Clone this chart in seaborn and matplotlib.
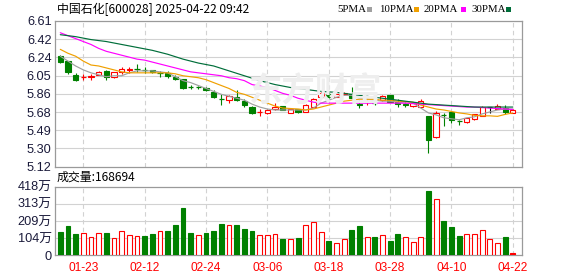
import numpy as np
import pandas as pd
import matplotlib
matplotlib.use("Agg")
import matplotlib.pyplot as plt
from matplotlib.patches import Rectangle
import seaborn as sns

# ---------------- data ----------------
title = "中国石化[600028] 2025-04-22 09:42"
vol_title = "成交量:168694"
watermark = "东方财富"

dates = ["01-20", "01-21", "01-22", "01-23", "01-24", "01-27",
         "02-05", "02-06", "02-07", "02-10", "02-11", "02-12", "02-13", "02-14",
         "02-17", "02-18", "02-19", "02-20", "02-21", "02-24", "02-25", "02-26",
         "02-27", "02-28", "03-03", "03-04", "03-05", "03-06", "03-07", "03-10",
         "03-11", "03-12", "03-13", "03-14", "03-17", "03-18", "03-19", "03-20",
         "03-21", "03-24", "03-25", "03-26", "03-27", "03-28", "03-31", "04-01",
         "04-02", "04-03", "04-07", "04-08", "04-09", "04-10", "04-11", "04-14",
         "04-15", "04-16", "04-17", "04-18", "04-21", "04-22"]
date_ticks = ["01-23", "02-12", "02-24", "03-06", "03-18", "03-28", "04-10", "04-22"]

opens = [6.25, 6.20, 6.06, 6.03, 6.04, 6.06, 6.10, 6.04, 6.09, 6.11,
         6.125, 6.115, 6.105, 6.08, 6.08, 6.04, 6.02, 5.94, 5.935, 5.92,
         5.88, 5.82, 5.80, 5.83, 5.79, 5.73, 5.675, 5.67, 5.705, 5.74,
         5.67, 5.71, 5.68, 5.73, 5.835, 5.865, 5.83, 5.86, 5.865, 5.765,
         5.775, 5.78, 5.80, 5.85, 5.785, 5.765, 5.745, 5.73, 5.635, 5.42,
         5.655, 5.675, 5.595, 5.58, 5.605, 5.64, 5.735, 5.715, 5.725, 5.67]
highs = [6.26, 6.20, 6.08, 6.07, 6.07, 6.10, 6.11, 6.09, 6.14, 6.14,
         6.17, 6.14, 6.11, 6.10, 6.10, 6.06, 6.02, 5.96, 5.95, 5.93,
         5.90, 5.86, 5.85, 5.90, 5.81, 5.74, 5.71, 5.71, 5.77, 5.74,
         5.71, 5.71, 5.76, 5.82, 5.89, 5.88, 5.87, 5.88, 5.94, 5.80,
         5.80, 5.80, 5.855, 5.85, 5.81, 5.78, 5.78, 5.81, 5.635, 5.685,
         5.67, 5.68, 5.60, 5.62, 5.66, 5.745, 5.735, 5.76, 5.75, 5.71]
lows = [6.18, 6.07, 6.00, 6.01, 6.01, 6.06, 6.01, 6.03, 6.07, 6.08,
        6.09, 6.08, 6.08, 6.04, 6.03, 6.01, 5.91, 5.91, 5.91, 5.89,
        5.82, 5.75, 5.77, 5.79, 5.73, 5.66, 5.64, 5.66, 5.70, 5.70,
        5.67, 5.67, 5.68, 5.73, 5.83, 5.82, 5.83, 5.85, 5.82, 5.72,
        5.75, 5.75, 5.79, 5.78, 5.73, 5.73, 5.73, 5.73, 5.26, 5.41,
        5.54, 5.57, 5.545, 5.57, 5.60, 5.64, 5.665, 5.71, 5.66, 5.67]
closes = [6.19, 6.09, 6.01, 6.035, 6.05, 6.09, 6.04, 6.09, 6.12, 6.12,
          6.12, 6.11, 6.09, 6.075, 6.05, 6.02, 5.92, 5.935, 5.93, 5.90,
          5.83, 5.815, 5.845, 5.80, 5.75, 5.67, 5.68, 5.70, 5.735, 5.70,
          5.705, 5.675, 5.75, 5.81, 5.87, 5.83, 5.86, 5.87, 5.825, 5.755,
          5.78, 5.775, 5.84, 5.785, 5.76, 5.75, 5.77, 5.795, 5.39, 5.67,
          5.65, 5.595, 5.59, 5.615, 5.655, 5.73, 5.735, 5.745, 5.675, 5.70]

ma5 = [6.25, 6.20, 6.15, 6.11, 6.08, 6.06, 6.04, 6.05, 6.05, 6.08,
       6.10, 6.10, 6.10, 6.09, 6.08, 6.04, 6.00, 5.98, 5.95, 5.92,
       5.89, 5.86, 5.84, 5.82, 5.80, 5.76, 5.73, 5.71, 5.70, 5.70,
       5.70, 5.70, 5.70, 5.72, 5.77, 5.80, 5.83, 5.85, 5.85, 5.82,
       5.81, 5.80, 5.79, 5.79, 5.78, 5.77, 5.77, 5.72, 5.67, 5.65,
       5.62, 5.61, 5.60, 5.62, 5.63, 5.66, 5.68, 5.70, 5.71, 5.71]
ma10 = [6.32, 6.28, 6.25, 6.20, 6.16, 6.15, 6.13, 6.11, 6.09, 6.08,
        6.08, 6.08, 6.08, 6.08, 6.08, 6.07, 6.05, 6.04, 6.03, 6.01,
        5.98, 5.95, 5.92, 5.88, 5.86, 5.83, 5.80, 5.77, 5.74, 5.72,
        5.715, 5.71, 5.70, 5.71, 5.73, 5.75, 5.77, 5.79, 5.80, 5.81,
        5.81, 5.81, 5.80, 5.80, 5.79, 5.785, 5.78, 5.75, 5.73, 5.71,
        5.70, 5.685, 5.67, 5.66, 5.645, 5.64, 5.64, 5.635, 5.655, 5.67]
ma20 = [6.49, 6.46, 6.43, 6.40, 6.37, 6.33, 6.30, 6.28, 6.26, 6.24,
        6.22, 6.21, 6.19, 6.17, 6.15, 6.13, 6.11, 6.09, 6.08, 6.07,
        6.06, 6.05, 6.03, 6.02, 6.00, 5.96, 5.945, 5.93, 5.90, 5.87,
        5.85, 5.82, 5.80, 5.78, 5.77, 5.77, 5.77, 5.77, 5.77, 5.77,
        5.77, 5.77, 5.77, 5.77, 5.77, 5.77, 5.765, 5.76, 5.755, 5.75,
        5.745, 5.74, 5.735, 5.73, 5.73, 5.725, 5.72, 5.715, 5.71, 5.705]
ma30 = [6.47, 6.46, 6.45, 6.435, 6.42, 6.41, 6.40, 6.385, 6.37, 6.355,
        6.34, 6.325, 6.31, 6.29, 6.27, 6.245, 6.22, 6.20, 6.18, 6.165,
        6.15, 6.125, 6.10, 6.075, 6.05, 6.025, 6.00, 5.98, 5.96, 5.945,
        5.93, 5.92, 5.91, 5.90, 5.89, 5.885, 5.88, 5.87, 5.86, 5.85,
        5.84, 5.83, 5.82, 5.81, 5.80, 5.79, 5.78, 5.77, 5.76, 5.755,
        5.75, 5.745, 5.74, 5.735, 5.73, 5.73, 5.73, 5.73, 5.73, 5.73]

# volume in 万 (10k lots)
volume = [143, 179, 130, 134, 110, 134, 136, 104, 147, 122,
          116, 118, 130, 147, 149, 185, 289, 136, 124, 136,
          149, 191, 185, 185, 161, 149, 122, 122, 130, 100,
          100, 106, 183, 204, 143, 88, 73, 100, 155, 179,
          112, 112, 122, 88, 130, 110, 80, 110, 392, 342,
          210, 173, 118, 128, 128, 155, 100, 73, 112, 16.87]
vol_up = [0, 0, 0, 1, 1, 1, 0, 1, 1, 1,
          1, 0, 0, 1, 0, 0, 0, 0, 1, 0,
          0, 0, 1, 0, 0, 0, 1, 1, 1, 0,
          1, 0, 1, 1, 1, 0, 1, 1, 0, 0,
          1, 0, 1, 0, 0, 1, 1, 1, 0, 1,
          0, 0, 0, 1, 1, 1, 1, 1, 0, 1]

price_labels = ["5.12", "5.30", "5.49", "5.68", "5.86", "6.05", "6.24", "6.42", "6.61"]
vol_labels = ["0", "104万", "209万", "313万", "418万"]
ma_names = ["5PMA", "10PMA", "20PMA", "30PMA"]

# ---------------- style ----------------
RED = "#ff0000"
GREEN = "#008000"
ma_colors = ["#a0a0a0", "#f0a000", "#ff00ff", "#006e3a"]
GRID = "#d2d2d2"
SPINE = "#9a9a9a"
LBL = "#1a1a3a"

sns.set_theme(style="white")
plt.rcParams["font.family"] = ["Noto Sans CJK SC", "DejaVu Sans"]

W, H = 578, 276
fig = plt.figure(figsize=(W / 100, H / 100), dpi=100)
fig.patch.set_facecolor("white")


def rect(l, t, r, b):
    return [l / W, 1 - b / H, (r - l) / W, (b - t) / H]


ax = fig.add_axes(rect(55, 21, 522, 166.7))
axv = fig.add_axes(rect(55, 186.5, 522, 255.3))

n = len(closes)
idx = np.arange(n)
xlim = (-0.69, 60.2)
pmin, pmax = 5.12, 6.61
vmax = 418
tick_pos = [dates.index(d) for d in date_ticks]

for a in (ax, axv):
    a.set_facecolor("white")
    a.set_xlim(*xlim)
    for s in a.spines.values():
        s.set_color(SPINE)
        s.set_linewidth(0.9)
    for p in tick_pos:
        a.axvline(p, color=GRID, lw=0.8, ls=(0, (4, 3)), zorder=0.5)
    a.tick_params(length=0)

# price axis
ax.set_ylim(pmin, pmax)
pticks = np.linspace(pmin, pmax, len(price_labels))
ax.set_yticks(pticks)
ax.set_yticklabels(price_labels, family=["Liberation Sans", "DejaVu Sans"],
                   fontsize=9.2, color=LBL)
ax.tick_params(axis="y", pad=2.5)
for p in pticks[1:-1]:
    ax.axhline(p, color=GRID, lw=0.8, zorder=0.5)
ax.set_xticks([])

# watermark
fig.text(315 / W, 1 - 92 / H, watermark, fontsize=24, fontweight="bold",
         color="#eeeeee", ha="center", va="center", zorder=0.6,
         family=["Noto Sans CJK SC"])

# MA lines via seaborn
ma_df = pd.DataFrame({
    "i": np.tile(idx, 4),
    "v": np.concatenate([ma5, ma10, ma20, ma30]),
    "k": np.repeat(ma_names, n),
})
sns.lineplot(data=ma_df, x="i", y="v", hue="k", hue_order=ma_names,
             palette=ma_colors, linewidth=0.85, legend=False, ax=ax,
             zorder=4, estimator=None)
ax.set_xlabel("")
ax.set_ylabel("")

# candles
bw = 0.68
for i, (o, h, l, c) in enumerate(zip(opens, highs, lows, closes)):
    if c > o:
        col = RED
    elif c < o:
        col = GREEN
    else:
        col = "black"
    ax.vlines(i, l, h, color=col, lw=0.8, zorder=2)
    if abs(c - o) < 0.008:
        ax.hlines(c, i - bw / 2, i + bw / 2, color=col, lw=0.9, zorder=3)
    elif c > o:
        ax.add_patch(Rectangle((i - bw / 2, o), bw, c - o, facecolor="white",
                               edgecolor=col, lw=0.8, zorder=3))
    else:
        ax.add_patch(Rectangle((i - bw / 2, c), bw, o - c, facecolor=col,
                               edgecolor=col, lw=0.8, zorder=3))

# volume axis
axv.set_ylim(0, vmax)
vticks = np.linspace(0, vmax, len(vol_labels))
axv.set_yticks(vticks)
axv.set_yticklabels(vol_labels, family=["Liberation Sans", "Noto Sans CJK SC"],
                    fontsize=9.2, color=LBL)
axv.tick_params(axis="y", pad=2.5)
for p in vticks[1:-1]:
    axv.axhline(p, color=GRID, lw=0.8, zorder=0.5)
axv.set_xticks(tick_pos)
axv.set_xticklabels(date_ticks, family=["Liberation Sans", "DejaVu Sans"],
                    fontsize=8.6, color=RED)
axv.tick_params(axis="x", pad=5)

vw = 0.64
for i, (v, up) in enumerate(zip(volume, vol_up)):
    if up:
        fc = RED if i == n - 1 else "white"
        axv.bar(i, v, width=vw, facecolor=fc, edgecolor=RED, lw=0.8, zorder=3)
    else:
        axv.bar(i, v, width=vw, facecolor=GREEN, edgecolor=GREEN, lw=0.8, zorder=3)

# title & legend
fig.text(57 / W, 1 - 9.5 / H, title, fontsize=8.6, color="black",
         ha="left", va="center")
fig.text(57 / W, 1 - 177 / H, vol_title, fontsize=8.6, color="black",
         ha="left", va="center")

leg_text_x = [337, 379, 424, 471]
leg_mark_x = [367, 414, 461, 506]
for name, col, tx, mx in zip(ma_names, ma_colors, leg_text_x, leg_mark_x):
    fig.text(tx / W, 1 - 9.5 / H, name, fontsize=7.8, color="black",
             family=["Liberation Serif", "DejaVu Serif"], ha="left", va="center")
    fig.patches.append(Rectangle((mx / W, 1 - 11.5 / H), 5 / W, 4.5 / H,
                                 facecolor=col, edgecolor="none",
                                 transform=fig.transFigure, figure=fig))

fig.savefig("out.png", dpi=100, facecolor="white")
